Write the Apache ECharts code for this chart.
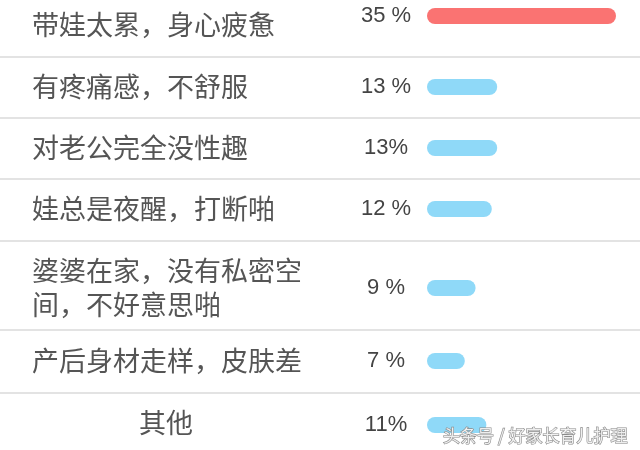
<!DOCTYPE html>
<html>
<head>
<meta charset="utf-8">
<script src="https://cdn.jsdelivr.net/npm/echarts@6/dist/echarts.min.js"></script>
<style>html,body{margin:0;padding:0;background:#fff;}#c{width:640px;height:450px;}</style>
</head>
<body>
<div id="c"></div>
<script>
// ---- data ----
var categories = ['带娃太累，身心疲惫', '有疼痛感，不舒服', '对老公完全没性趣', '娃总是夜醒，打断啪', '婆婆在家，没有私密空间，不好意思啪', '产后身材走样，皮肤差', '其他'];
var values = [35, 13, 13, 12, 9, 7, 11];
var pctLabels = ['35 %', '13 %', '13%', '12 %', '9 %', '7 %', '11%'];
var watermark = '头条号 / 好家长育儿护理';

// ---- layout / style ----
var barCenters = [16, 87, 148, 209, 288, 361, 425];
var labelShift = [9, 0, 0, 0, 0, 0, -2];
var separators = [57, 118, 179, 241, 330, 393];
var BAR = 16, LEFT = 427, RIGHT = 24;
var RED = '#fa7372', BLUE = '#8fd9f8';

var grids = [], xAxes = [], yAxes = [], series = [];
categories.forEach(function (name, i) {
  grids.push({ left: LEFT, right: RIGHT, top: barCenters[i] - BAR / 2, height: BAR, containLabel: false, outerBoundsMode: 'none' });
  xAxes.push({ type: 'value', gridIndex: i, min: 0, max: 35, show: false });
  var isLast = i === categories.length - 1;
  var s = labelShift[i];
  yAxes.push({
    type: 'category', gridIndex: i, data: [name],
    axisLine: { show: false }, axisTick: { show: false }, splitLine: { show: false },
    axisLabel: {
      margin: isLast ? LEFT - 166 : LEFT - 32,
      align: isLast ? 'center' : 'left',
      verticalAlign: s > 0 ? 'top' : (s < 0 ? 'bottom' : 'middle'),
      lineHeight: s !== 0 ? Math.abs(s) * 2 : 34,
      color: '#555', fontSize: 27, fontFamily: 'Noto Sans CJK SC',
      width: 272, overflow: 'break'
    }
  });
  series.push({
    type: 'bar', xAxisIndex: i, yAxisIndex: i, data: [values[i]],
    barWidth: BAR, silent: true,
    itemStyle: { color: i === 0 ? RED : BLUE, borderRadius: BAR / 2 },
    label: {
      show: true, position: 'left', distance: LEFT - 386, align: 'center',
      formatter: (function (t) { return function () { return t; }; })(pctLabels[i]),
      color: '#444', fontSize: 22, fontFamily: 'Liberation Sans, Roboto, sans-serif', fontWeight: 'normal'
    }
  });
});

var graphics = separators.map(function (y) {
  return { type: 'line', shape: { x1: 0, y1: y, x2: 640, y2: y }, style: { stroke: '#e3e3e3', lineWidth: 2 }, z: -1 };
});
graphics.push({
  type: 'text', right: 12, top: 426, z: 100,
  style: { text: watermark, fill: 'rgba(255,255,255,0.85)', stroke: '#8a8a8a', lineWidth: 1.2, font: '17px "Noto Sans CJK SC"' }
});

var chart = echarts.init(document.getElementById('c'));
chart.setOption({
  animation: false,
  backgroundColor: '#fff',
  grid: grids, xAxis: xAxes, yAxis: yAxes, series: series,
  graphic: graphics
});
</script>
</body>
</html>
